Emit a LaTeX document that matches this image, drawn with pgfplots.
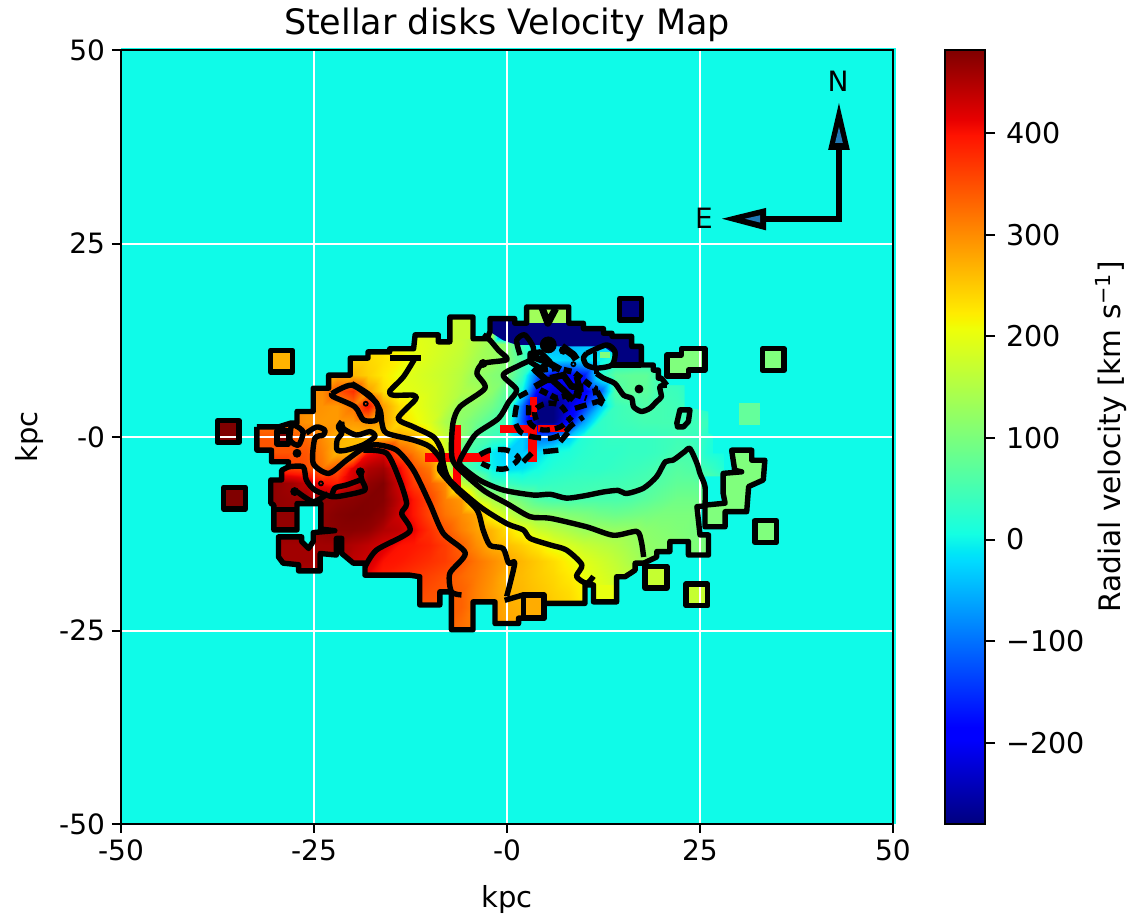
\documentclass[border=0pt]{standalone}
\usepackage{pgfplots}
\usepackage{fontspec}
\setmainfont{DejaVu Sans}
\pgfplotsset{compat=1.18}
\definecolor{bgc}{RGB}{15,251,232}
\definecolor{vD}{RGB}{128,0,0}
\definecolor{vN}{RGB}{0,0,128}
\definecolor{v270}{RGB}{255,178,0}
\definecolor{v275}{RGB}{255,172,0}
\definecolor{v200}{RGB}{232,255,16}
\definecolor{v170}{RGB}{197,255,48}
\definecolor{v130}{RGB}{160,255,90}
\definecolor{v105}{RGB}{128,255,125}
\definecolor{v75}{RGB}{100,255,155}
\definecolor{arrowblue}{RGB}{31,119,180}
\pgfplotsset{colormap={mpljet}{rgb(0pt)=(0,0,.5); rgb(110pt)=(0,0,1); rgb(125pt)=(0,0,1); rgb(340pt)=(0,.86,1); rgb(350pt)=(0,.9,.968); rgb(375pt)=(.081,1,.887); rgb(640pt)=(.935,1,.032); rgb(650pt)=(.968,.963,0); rgb(660pt)=(1,.926,0); rgb(890pt)=(1,.074,0); rgb(910pt)=(.909,0,0); rgb(1000pt)=(.5,0,0)}}
\pgfplotsset{ctr/.style={black,line width=2.7pt,line join=round,smooth,tension=0.45},stp/.style={black,line width=2.7pt,line join=round}}
\newcommand{\sqf}[5]{\addplot[fill=#5,draw=none] coordinates {(#1,#3)(#2,#3)(#2,#4)(#1,#4)} -- cycle;}
\newcommand{\sqd}[4]{\addplot[stp,fill=none] coordinates {(#1,#3)(#2,#3)(#2,#4)(#1,#4)} -- cycle;}
\begin{document}
\begin{tikzpicture}
\path[use as bounding box] (0,0) rectangle (568.5pt,458.5pt);
\begin{axis}[
  at={(60.5pt,46.5pt)},anchor=south west,
  scale only axis,width=386pt,height=387pt,
  xmin=-50,xmax=50,ymin=-50,ymax=50,
  clip=false,axis on top,
  colormap name=mpljet,
  point meta min=-280,point meta max=482,
  axis line style={black,line width=1.1pt},
  tick style={black,line width=1pt},
  tick align=outside,major tick length=4.5pt,
  xtick pos=lower,ytick pos=left,
  xtick={-50,-25,0,25,50},xticklabels={-50,-25,-0,25,50},
  ytick={-50,-25,0,25,50},yticklabels={-50,-25,-0,25,50},
  tick label style={font=\fontsize{14}{16}\selectfont},
  xlabel={kpc},ylabel={kpc},
  label style={font=\fontsize{14.5}{16}\selectfont},
  xlabel style={yshift=-5pt},ylabel style={yshift=1pt},
  title={Stellar disks Velocity Map},
  title style={font=\fontsize{17.5}{20}\selectfont,yshift=-5.5pt},
]
% background
\addplot[fill=bgc,draw=none] coordinates {(-50,-50)(50.4,-50)(50.4,50.25)(-50,50.25)} -- cycle;
% velocity field, read on a 2 kpc grid
\addplot[surf,shader=interp,mesh/cols=32,point meta=explicit] coordinates {
(-34,14)[240](-32,14)[240](-30,14)[240](-28,14)[240](-26,14)[240](-24,14)[240](-22,14)[240](-20,14)[240](-18,14)[230](-16,14)[220](-14,14)[205](-12,14)[195](-10,14)[188](-8,14)[178](-6,14)[165](-4,14)[150](-2,14)[130](0,14)[-280](2,14)[-280](4,14)[-280](6,14)[-280](8,14)[-280](10,14)[-280](12,14)[-280](14,14)[-280](16,14)[-280](18,14)[0](20,14)[0](22,14)[0](24,14)[0](26,14)[0](28,14)[0]
(-34,12)[240](-32,12)[240](-30,12)[240](-28,12)[240](-26,12)[240](-24,12)[240](-22,12)[240](-20,12)[240](-18,12)[235](-16,12)[225](-14,12)[210](-12,12)[198](-10,12)[190](-8,12)[180](-6,12)[170](-4,12)[150](-2,12)[130](0,12)[110](2,12)[40](4,12)[-30](6,12)[-50](8,12)[-50](10,12)[-40](12,12)[-30](14,12)[-30](16,12)[-30](18,12)[0](20,12)[0](22,12)[0](24,12)[0](26,12)[0](28,12)[0]
(-34,10)[250](-32,10)[250](-30,10)[250](-28,10)[250](-26,10)[250](-24,10)[250](-22,10)[250](-20,10)[245](-18,10)[240](-16,10)[230](-14,10)[218](-12,10)[200](-10,10)[186](-8,10)[175](-6,10)[163](-4,10)[140](-2,10)[130](0,10)[110](2,10)[60](4,10)[0](6,10)[-20](8,10)[-30](10,10)[-20](12,10)[0](14,10)[20](16,10)[20](18,10)[30](20,10)[20](22,10)[10](24,10)[5](26,10)[0](28,10)[0]
(-34,8)[290](-32,8)[290](-30,8)[290](-28,8)[290](-26,8)[290](-24,8)[285](-22,8)[275](-20,8)[265](-18,8)[245](-16,8)[225](-14,8)[205](-12,8)[190](-10,8)[180](-8,8)[170](-6,8)[155](-4,8)[125](-2,8)[110](0,8)[100](2,8)[40](4,8)[-120](6,8)[-190](8,8)[-190](10,8)[-170](12,8)[20](14,8)[70](16,8)[75](18,8)[75](20,8)[40](22,8)[30](24,8)[15](26,8)[5](28,8)[0]
(-34,6)[300](-32,6)[300](-30,6)[300](-28,6)[300](-26,6)[300](-24,6)[300](-22,6)[345](-20,6)[375](-18,6)[285](-16,6)[235](-14,6)[200](-12,6)[195](-10,6)[185](-8,6)[170](-6,6)[150](-4,6)[140](-2,6)[115](0,6)[70](2,6)[0](4,6)[-200](6,6)[-220](8,6)[-220](10,6)[-200](12,6)[-120](14,6)[60](16,6)[75](18,6)[70](20,6)[45](22,6)[40](24,6)[20](26,6)[5](28,6)[0]
(-34,4)[295](-32,4)[295](-30,4)[295](-28,4)[295](-26,4)[295](-24,4)[295](-22,4)[290](-20,4)[320](-18,4)[400](-16,4)[285](-14,4)[235](-12,4)[205](-10,4)[185](-8,4)[165](-6,4)[125](-4,4)[115](-2,4)[90](0,4)[55](2,4)[-100](4,4)[-280](6,4)[-280](8,4)[-220](10,4)[-150](12,4)[-40](14,4)[40](16,4)[50](18,4)[60](20,4)[50](22,4)[45](24,4)[40](26,4)[20](28,4)[5]
(-34,2)[320](-32,2)[320](-30,2)[320](-28,2)[310](-26,2)[295](-24,2)[290](-22,2)[290](-20,2)[290](-18,2)[295](-16,2)[285](-14,2)[235](-12,2)[215](-10,2)[190](-8,2)[145](-6,2)[115](-4,2)[90](-2,2)[60](0,2)[45](2,2)[-120](4,2)[-280](6,2)[-280](8,2)[-180](10,2)[-60](12,2)[30](14,2)[40](16,2)[45](18,2)[50](20,2)[50](22,2)[50](24,2)[45](26,2)[40](28,2)[10]
(-34,0)[345](-32,0)[345](-30,0)[345](-28,0)[345](-26,0)[330](-24,0)[300](-22,0)[270](-20,0)[260](-18,0)[255](-16,0)[265](-14,0)[280](-12,0)[270](-10,0)[215](-8,0)[170](-6,0)[115](-4,0)[65](-2,0)[45](0,0)[30](2,0)[-30](4,0)[-100](6,0)[-90](8,0)[-30](10,0)[20](12,0)[30](14,0)[35](16,0)[35](18,0)[35](20,0)[40](22,0)[45](24,0)[40](26,0)[20](28,0)[5]
(-34,-2)[345](-32,-2)[345](-30,-2)[345](-28,-2)[345](-26,-2)[345](-24,-2)[310](-22,-2)[265](-20,-2)[265](-18,-2)[400](-16,-2)[420](-14,-2)[340](-12,-2)[310](-10,-2)[270](-8,-2)[190](-6,-2)[70](-4,-2)[45](-2,-2)[-10](0,-2)[-30](2,-2)[-30](4,-2)[-20](6,-2)[5](8,-2)[15](10,-2)[25](12,-2)[30](14,-2)[30](16,-2)[35](18,-2)[35](20,-2)[40](22,-2)[50](24,-2)[50](26,-2)[15](28,-2)[5]
(-34,-4)[400](-32,-4)[400](-30,-4)[390](-28,-4)[360](-26,-4)[350](-24,-4)[320](-22,-4)[345](-20,-4)[420](-18,-4)[450](-16,-4)[460](-14,-4)[410](-12,-4)[345](-10,-4)[315](-8,-4)[190](-6,-4)[60](-4,-4)[35](-2,-4)[-5](0,-4)[-20](2,-4)[-15](4,-4)[5](6,-4)[20](8,-4)[25](10,-4)[30](12,-4)[30](14,-4)[35](16,-4)[40](18,-4)[45](20,-4)[55](22,-4)[65](24,-4)[60](26,-4)[40](28,-4)[20]
(-34,-6)[470](-32,-6)[470](-30,-6)[470](-28,-6)[460](-26,-6)[440](-24,-6)[400](-22,-6)[390](-20,-6)[430](-18,-6)[470](-16,-6)[480](-14,-6)[430](-12,-6)[365](-10,-6)[335](-8,-6)[300](-6,-6)[170](-4,-6)[125](-2,-6)[45](0,-6)[40](2,-6)[30](4,-6)[30](6,-6)[35](8,-6)[40](10,-6)[42](12,-6)[45](14,-6)[45](16,-6)[50](18,-6)[55](20,-6)[65](22,-6)[75](24,-6)[75](26,-6)[70](28,-6)[60]
(-34,-8)[470](-32,-8)[470](-30,-8)[470](-28,-8)[465](-26,-8)[465](-24,-8)[470](-22,-8)[470](-20,-8)[475](-18,-8)[480](-16,-8)[478](-14,-8)[440](-12,-8)[395](-10,-8)[355](-8,-8)[310](-6,-8)[290](-4,-8)[190](-2,-8)[145](0,-8)[115](2,-8)[90](4,-8)[60](6,-8)[50](8,-8)[50](10,-8)[55](12,-8)[55](14,-8)[55](16,-8)[60](18,-8)[70](20,-8)[80](22,-8)[90](24,-8)[90](26,-8)[85](28,-8)[70]
(-34,-10)[470](-32,-10)[470](-30,-10)[470](-28,-10)[470](-26,-10)[470](-24,-10)[470](-22,-10)[478](-20,-10)[482](-18,-10)[480](-16,-10)[470](-14,-10)[430](-12,-10)[395](-10,-10)[355](-8,-10)[320](-6,-10)[300](-4,-10)[280](-2,-10)[205](0,-10)[170](2,-10)[135](4,-10)[120](6,-10)[115](8,-10)[105](10,-10)[100](12,-10)[90](14,-10)[85](16,-10)[90](18,-10)[95](20,-10)[100](22,-10)[100](24,-10)[100](26,-10)[95](28,-10)[90]
(-34,-12)[470](-32,-12)[470](-30,-12)[470](-28,-12)[470](-26,-12)[470](-24,-12)[470](-22,-12)[475](-20,-12)[475](-18,-12)[470](-16,-12)[450](-14,-12)[440](-12,-12)[410](-10,-12)[375](-8,-12)[345](-6,-12)[310](-4,-12)[285](-2,-12)[265](0,-12)[235](2,-12)[205](4,-12)[175](6,-12)[160](8,-12)[145](10,-12)[130](12,-12)[130](14,-12)[125](16,-12)[125](18,-12)[115](20,-12)[110](22,-12)[105](24,-12)[100](26,-12)[95](28,-12)[90]
(-34,-14)[460](-32,-14)[460](-30,-14)[460](-28,-14)[460](-26,-14)[460](-24,-14)[460](-22,-14)[460](-20,-14)[450](-18,-14)[440](-16,-14)[425](-14,-14)[400](-12,-14)[395](-10,-14)[385](-8,-14)[365](-6,-14)[335](-4,-14)[300](-2,-14)[272](0,-14)[260](2,-14)[245](4,-14)[225](6,-14)[200](8,-14)[185](10,-14)[170](12,-14)[160](14,-14)[150](16,-14)[135](18,-14)[120](20,-14)[115](22,-14)[110](24,-14)[105](26,-14)[100](28,-14)[95]
(-34,-16)[460](-32,-16)[460](-30,-16)[460](-28,-16)[460](-26,-16)[460](-24,-16)[460](-22,-16)[460](-20,-16)[440](-18,-16)[430](-16,-16)[400](-14,-16)[395](-12,-16)[385](-10,-16)[375](-8,-16)[365](-6,-16)[345](-4,-16)[320](-2,-16)[300](0,-16)[280](2,-16)[265](4,-16)[250](6,-16)[235](8,-16)[215](10,-16)[195](12,-16)[180](14,-16)[165](16,-16)[145](18,-16)[120](20,-16)[110](22,-16)[105](24,-16)[100](26,-16)[95](28,-16)[90]
(-34,-18)[450](-32,-18)[450](-30,-18)[450](-28,-18)[450](-26,-18)[450](-24,-18)[450](-22,-18)[450](-20,-18)[430](-18,-18)[410](-16,-18)[390](-14,-18)[380](-12,-18)[370](-10,-18)[360](-8,-18)[350](-6,-18)[330](-4,-18)[315](-2,-18)[295](0,-18)[270](2,-18)[262](4,-18)[250](6,-18)[240](8,-18)[225](10,-18)[205](12,-18)[190](14,-18)[175](16,-18)[165](18,-18)[150](20,-18)[140](22,-18)[130](24,-18)[120](26,-18)[110](28,-18)[100]
(-34,-20)[420](-32,-20)[420](-30,-20)[420](-28,-20)[420](-26,-20)[420](-24,-20)[420](-22,-20)[420](-20,-20)[420](-18,-20)[400](-16,-20)[380](-14,-20)[370](-12,-20)[360](-10,-20)[350](-8,-20)[345](-6,-20)[335](-4,-20)[310](-2,-20)[290](0,-20)[270](2,-20)[265](4,-20)[255](6,-20)[245](8,-20)[235](10,-20)[215](12,-20)[200](14,-20)[180](16,-20)[170](18,-20)[150](20,-20)[130](22,-20)[120](24,-20)[110](26,-20)[100](28,-20)[100]
(-34,-22)[400](-32,-22)[400](-30,-22)[400](-28,-22)[400](-26,-22)[400](-24,-22)[400](-22,-22)[400](-20,-22)[400](-18,-22)[380](-16,-22)[370](-14,-22)[360](-12,-22)[350](-10,-22)[345](-8,-22)[340](-6,-22)[335](-4,-22)[310](-2,-22)[295](0,-22)[275](2,-22)[270](4,-22)[265](6,-22)[250](8,-22)[240](10,-22)[220](12,-22)[200](14,-22)[180](16,-22)[170](18,-22)[150](20,-22)[130](22,-22)[120](24,-22)[110](26,-22)[100](28,-22)[100]
(-34,-24)[400](-32,-24)[400](-30,-24)[400](-28,-24)[400](-26,-24)[400](-24,-24)[400](-22,-24)[400](-20,-24)[400](-18,-24)[380](-16,-24)[370](-14,-24)[360](-12,-24)[350](-10,-24)[345](-8,-24)[340](-6,-24)[325](-4,-24)[310](-2,-24)[295](0,-24)[280](2,-24)[270](4,-24)[265](6,-24)[250](8,-24)[240](10,-24)[220](12,-24)[200](14,-24)[180](16,-24)[170](18,-24)[150](20,-24)[130](22,-24)[120](24,-24)[110](26,-24)[100](28,-24)[100]
(-34,-26)[400](-32,-26)[400](-30,-26)[400](-28,-26)[400](-26,-26)[400](-24,-26)[400](-22,-26)[400](-20,-26)[400](-18,-26)[380](-16,-26)[370](-14,-26)[360](-12,-26)[350](-10,-26)[345](-8,-26)[340](-6,-26)[325](-4,-26)[310](-2,-26)[295](0,-26)[280](2,-26)[270](4,-26)[265](6,-26)[250](8,-26)[240](10,-26)[220](12,-26)[200](14,-26)[180](16,-26)[170](18,-26)[150](20,-26)[130](22,-26)[120](24,-26)[110](26,-26)[100](28,-26)[100]
};
% everything outside the galaxy's outline is background colour
\addplot[fill=bgc,draw=none,even odd rule] coordinates {
(-40,0)(-40,20)(40,20)(40,-30)(-40,-30)(-40,0)(-32.4,0)
(-32.4,-1.7)(-30.5,-1.7)(-30.5,-3.2)(-28.3,-3.2)(-28.3,-3.85)(-29.2,-4.3)(-29.2,-5.55)(-30.6,-5.55)(-30.6,-8.55)(-30.2,-8.8)(-30.2,-12)(-27.2,-12)(-27.2,-8.6)(-24.4,-8.6)(-24.1,-8.6)(-24.1,-11.9)(-22.3,-12.1)(-25.1,-12.35)(-25.1,-13.5)(-25.7,-14.4)(-26.6,-13.5)(-26.6,-12.9)(-29.6,-12.9)(-29.6,-15.5)(-29,-16.3)(-27,-16.5)(-27,-17.3)(-24.2,-17.3)(-24.2,-15.05)(-22.1,-15.25)(-22.1,-13.1)(-21.4,-13.1)(-21.4,-15.05)(-19.9,-16.3)(-18.4,-16.3)(-18.4,-17.85)(-12.6,-17.85)(-11.3,-18.05)(-11.3,-21.7)(-8.7,-21.7)(-8.7,-20)(-7.2,-20)(-7.2,-24.9)(-4.4,-24.9)(-4.4,-21.3)(-1.55,-21.3)(-1.55,-24.1)(1.5,-24.1)(1.5,-23.4)(4.8,-23.4)(4.8,-21.5)(10.1,-21.5)(10.1,-19.1)(11.2,-19.1)(11.2,-21.3)(14.2,-21.3)(14.2,-18.05)(15.3,-18.05)(16.6,-17.2)(16.6,-16.3)(17.7,-16.3)(19.4,-15.5)(19.4,-14.8)(21.1,-14.8)(21.1,-13.5)(23.5,-13.5)(23.5,-15.25)(26.1,-15.25)(26.1,-12.65)(25,-12.65)(24.6,-9)(25.65,-8.9)
(25.65,-5.1)(29.3,-5.1)(28.9,-2.1)(26.7,-2.1)(26.7,.25)(26.1,.5)(26.1,3.3)(23,3.9)(23,6.7)(20.7,6.7)(20,7.6)(19.6,7.6)(19.6,8.65)(18.95,8.65)(18.95,9.3)(17.4,9.3)
(17.4,11.7)(16.15,11.7)(16.15,13)(13.6,13)(13.6,13.4)(12.5,13.4)(12.5,14)(9.9,14)(9.9,14.7)(8,14.7)(8,16.8)(2.55,16.8)(2.55,14.7)(1,14.7)(1,15.3)(-2.2,15.3)(-2.2,13.6)(-2.6,12.7)(-4.4,12.7)(-4.4,15.5)(-7.4,15.5)(-7.4,12.3)(-8.9,12.3)(-8.9,13.2)(-11.9,13.2)(-12.1,11.4)(-15.2,11.4)(-15.2,11)(-18,11)(-18,10.2)(-20.3,10.2)(-20.3,8)(-23.1,8)(-23.1,6.3)(-25.1,6.3)(-25.1,3.3)(-27.2,3.3)(-27.2,1.8)(-28,1.8)(-29.6,1.3)(-32.4,1.3)(-32.4,0)(-40,0)
} -- cycle;
% flat patches
\sqf{-30.6}{-27.8}{8.4}{11.2}{v270}
\sqf{-37.5}{-34.7}{-.7}{2.1}{vD}
\sqf{-36.7}{-33.9}{-9.3}{-6.5}{vD}
\sqf{-7.4}{-4.4}{12.7}{15.5}{v170}
\sqf{14.6}{17.4}{15.1}{17.9}{vN}
\sqf{33.1}{35.9}{8.6}{11.4}{v105}
\sqf{32.1}{34.9}{-13.6}{-10.8}{v105}
\sqf{23.2}{26}{-21.8}{-19}{v170}
\sqf{17.9}{20.7}{-19.5}{-16.7}{v170}
\sqf{2.1}{4.8}{-23.4}{-20.4}{v275}
\sqf{11.2}{14.2}{-21.3}{-19.1}{v200}
\sqf{30}{32.8}{1.55}{4.35}{v75}
\sqf{-29.8}{-28.3}{-.9}{.8}{vD}
\sqf{2.55}{8}{14.7}{16.8}{v130}
\addplot[fill=v105,draw=none] coordinates {(20.7,10.6)(22.6,10.6)(22.6,11.45)(25.65,11.45)(25.65,8.65)(23.5,8.65)(23.5,7.9)(20.7,7.9)} -- cycle;
\addplot[fill=v105,draw=none] coordinates {(25.65,-8.9)(25.65,-11.6)(28.25,-11.6)(28.25,-9.65)(31.05,-9.65)(31.3,-6.4)(33.2,-5.55)(33.4,-3)(31.7,-3)(31.7,-1.7)(29.1,-1.7)(29.5,-4.3)(28,-4.7)(28,-7.3)(28.25,-8.55)} -- cycle;
% dark strip
\addplot[fill=vN,draw=none] coordinates {(-2.2,13.6)(-2.2,15.3)(1,15.3)(1,14.7)(2.55,14.7)(8,14.7)(9.9,14.7)(9.9,14)(12.5,14)(12.5,13.4)(13.6,13.4)(13.6,13)(16.15,13)(16.15,11.7)(17.4,11.7)(17.4,9.3)(13.6,9.3)(13.8,10.8)(12.5,11.7)(6.9,11.7)(3.85,11.9)(1.25,11.9)(-.5,12.5)} -- cycle;
% white grid
\addplot[white,line width=1pt] coordinates {(-25,-50)(-25,50)};
\addplot[white,line width=1pt] coordinates {(0,-50)(0,50)};
\addplot[white,line width=1pt] coordinates {(25,-50)(25,50)};
\addplot[white,line width=1pt] coordinates {(-50,-25)(50,-25)};
\addplot[white,line width=1pt] coordinates {(-50,0)(50,0)};
\addplot[white,line width=1pt] coordinates {(-50,25)(50,25)};
% red crosses
\addplot[fill=red,draw=none] coordinates {(-6.95,1.55)(-5.9,1.55)(-5.9,-6.85)(-6.95,-6.85)} -- cycle;
\addplot[fill=red,draw=none] coordinates {(-10.6,-2.1)(-2.2,-2.1)(-2.2,-3.2)(-10.6,-3.2)} -- cycle;
\addplot[fill=red,draw=none] coordinates {(-.9,1.55)(3.85,1.55)(3.85,.47)(-.9,.47)} -- cycle;
\addplot[fill=red,draw=none] coordinates {(2.76,1.55)(3.85,1.55)(3.85,-3.2)(2.76,-3.2)} -- cycle;
\addplot[fill=red,draw=none] coordinates {(3,5.2)(3.9,5.2)(3.9,2.6)(3,2.6)} -- cycle;
\addplot[fill=red,draw=none] coordinates {(4,1.55)(7.5,1.55)(7.5,.6)(4,.6)} -- cycle;
% square frames
\sqd{-30.6}{-27.8}{8.4}{11.2}
\sqd{-37.5}{-34.7}{-.7}{2.1}
\sqd{-36.7}{-33.9}{-9.3}{-6.5}
\sqd{14.6}{17.4}{15.1}{17.9}
\sqd{33.1}{35.9}{8.6}{11.4}
\sqd{32.1}{34.9}{-13.6}{-10.8}
\sqd{23.2}{26}{-21.8}{-19}
\sqd{17.9}{20.7}{-19.5}{-16.7}
\sqd{2.1}{4.8}{-23.4}{-20.4}
\sqd{-29.8}{-28.3}{-.9}{.8}
% outer contour
\addplot[stp] coordinates {
(-32.4,1.3)(-32.4,-1.7)(-30.5,-1.7)(-30.5,-3.2)(-28.3,-3.2)(-28.3,-3.85)(-29.2,-4.3)(-29.2,-5.55)(-30.6,-5.55)(-30.6,-8.55)(-30.2,-8.8)(-30.2,-12)(-27.2,-12)(-27.2,-8.6)(-24.4,-8.6)(-24.1,-8.6)(-24.1,-11.9)(-22.3,-12.1)(-25.1,-12.35)(-25.1,-13.5)(-25.7,-14.4)(-26.6,-13.5)(-26.6,-12.9)(-29.6,-12.9)(-29.6,-15.5)(-29,-16.3)(-27,-16.5)(-27,-17.3)(-24.2,-17.3)(-24.2,-15.05)(-22.1,-15.25)(-22.1,-13.1)(-21.4,-13.1)(-21.4,-15.05)(-19.9,-16.3)(-18.4,-16.3)(-18.4,-17.85)(-12.6,-17.85)(-11.3,-18.05)(-11.3,-21.7)(-8.7,-21.7)(-8.7,-20)(-7.2,-20)(-7.2,-24.9)(-4.4,-24.9)(-4.4,-21.3)(-1.55,-21.3)(-1.55,-24.1)(1.5,-24.1)(1.5,-23.4)(4.8,-23.4)(4.8,-21.5)(10.1,-21.5)(10.1,-19.1)(11.2,-19.1)(11.2,-21.3)(14.2,-21.3)(14.2,-18.05)(15.3,-18.05)(16.6,-17.2)(16.6,-16.3)(17.7,-16.3)(19.4,-15.5)(19.4,-14.8)(21.1,-14.8)(21.1,-13.5)(23.5,-13.5)(23.5,-15.25)(26.1,-15.25)(26.1,-12.65)(25,-12.65)(24.6,-9)(25.65,-8.9)
};
% the 50 km/s level
\addplot[ctr] coordinates {(25.65,-8.9)(25.65,-6.4)(25,-4.7)(24.6,-3.4)(23.7,-1.5)(23,-1.9)(21.5,-3)(20.5,-3.2)(19.4,-5.1)(17.7,-6.6)(15.5,-7.3)(14.4,-6.9)(12.5,-7.1)(10,-7.6)(7.7,-7.9)(5.6,-7.4)(3.4,-7.5)(-.5,-6.85)(-3.5,-5.6)(-5.9,-3.8)(-6.1,-3)(-5,-1)(-3.9,.5)(-1.1,2.4)(0.2,4.5)(1.25,6.1)(-.5,8)(1.7,9.3)(3.2,10.1)(3.4,11.6)(2.3,13.2)(1.25,12.5)(1.7,10.6)};
\addplot[ctr] coordinates {(11.6,8.2)(12.5,7.6)(14,6.9)(15.1,5.4)(16.15,5)(16.4,3.9)(17.4,3.3)(18.5,3.7)(19.4,4.6)(20,5.2)(19.8,6.5)(20.7,6.7)};
\addplot[stp] coordinates {(20.7,6.7)(20,7.6)(19.6,7.6)(19.6,8.65)(18.95,8.65)(18.95,9.3)(17.4,9.3)(17.4,11.7)(16.15,11.7)(16.15,13)(13.6,13)(13.6,13.4)(12.5,13.4)(12.5,14)(9.9,14)(9.9,14.7)(8,14.7)(8,16.8)(2.55,16.8)(2.55,14.7)(1,14.7)(1,15.3)(-2.2,15.3)(-2.2,13.6)(-2.6,12.7)(-4.4,12.7)(-4.4,15.5)(-7.4,15.5)(-7.4,12.3)(-8.9,12.3)(-8.9,13.2)(-11.9,13.2)(-12.1,11.4)(-15.2,11.4)(-15.2,11)(-18,11)(-18,10.2)(-20.3,10.2)(-20.3,8)(-23.1,8)(-23.1,6.3)(-25.1,6.3)(-25.1,3.3)(-27.2,3.3)(-27.2,1.8)(-28,1.8)(-29.6,1.3)(-32.4,1.3)};
\addplot[stp] coordinates {(17.4,9.3)(13.6,9.3)};
% right hand patches
\addplot[stp] coordinates {(20.7,10.6)(22.6,10.6)(22.6,11.45)(25.65,11.45)(25.65,8.65)(23.5,8.65)(23.5,7.9)(20.7,7.9)} -- cycle;
\addplot[stp] coordinates {(25.65,-8.9)(25.65,-11.6)(28.25,-11.6)(28.25,-9.65)(31.05,-9.65)(31.3,-6.4)(33.2,-5.55)(33.4,-3)(31.7,-3)(31.7,-1.7)(29.1,-1.7)(29.5,-4.3)(30.4,-4.5)(28,-4.7)(28,-7.3)(28.25,-8.55)(25.65,-8.8)};
\addplot[stp] coordinates {(22,1.8)(22.4,3.5)(23.7,3.5)(23.5,2)(22.85,1.3)(22.1,1.3)} -- cycle;
% level 125
\addplot[ctr] coordinates {(17.7,-15.5)(17.4,-13.5)(16.8,-12.2)(13.8,-12.7)(10.3,-11.6)(5.6,-10.5)(3,-10.3)(0,-8.6)(-3.1,-6.85)(-6.7,-3.6)(-7.2,-1.7)(-7,1.8)(-6.1,3.9)(-2.85,6.3)(-3.9,8.2)(-3.1,9.5)(0,10)(-1.1,11.2)(-2.2,12.5)(-3.1,13.2)};
% level 200
\addplot[ctr] coordinates {(-11.9,10.2)(-13.4,7.8)(-15.2,5.9)(-14.7,5.4)(-12.1,5.4)(-11.9,4.8)(-14.1,2.4)(-12.1,1.3)(-9.5,0)(-8.5,-1.7)(-8.25,-3.4)(-7.4,-5.6)(-3.5,-9)(0,-11.2)(2.1,-12)(3,-13.1)(5.6,-13.95)(7.7,-14.6)(9.7,-16.5)(9,-18)(10.3,-18.9)(11.2,-18)};
\addplot[stp] coordinates {(-15.2,10.2)(-11.2,10.2)};
% level 275
\addplot[ctr] coordinates {(-20.1,6.9)(-17.75,5.4)(-16.45,3.5)(-16.2,1.8)(-15.6,.5)(-12.1,-.4)(-10,-1.25)(-8.5,-3)(-8.7,-4.3)(-6.5,-6.85)(-3.9,-9.4)(-3.1,-12)(-2.2,-14)(-.5,-14.4)(.2,-16.3)(1,-16.3)(-.04,-20.6)};
\addplot[ctr] coordinates {(-21.4,2)(-21.2,1.1)(-19.5,.25)(-17.75,.7)(-17.1,.05)(-18.6,-1)(-20.8,-1.7)(-22,-1.7)(-22,-.4)(-21.4,.5)(-21.85,1.3)(-21.4,2)};
\addplot[stp] coordinates {(-.3,-21.1)(2.1,-20.4)(4.7,-20.4)};
% level 350
\addplot[ctr] coordinates {(-26,.5)(-24.65,1.3)(-23.6,.9)(-23.8,.25)(-24.9,-.2)(-25.1,-3.4)(-23.1,-4.7)(-20.8,-3)(-18.6,-1.45)(-16.9,-1)(-14.3,-1.7)(-12.1,-4.3)(-10,-8.6)(-8.25,-12.45)(-5.4,-15)(-7.4,-17.6)(-7.2,-20)(-5.9,-20.4)};
\addplot[ctr] coordinates {(-22.7,5.6)(-20.1,6.7)(-17.3,4.8)(-16.7,3.9)(-16.9,2.2)(-18.6,2.2)(-19.7,3.9)(-22.5,5.2)(-22.7,5.6)};
\addplot[ctr] coordinates {(-27.9,1.75)(-26.8,1.1)(-26.4,.5)(-27,-1.05)(-28.1,-.4)(-27.9,1.75)};
% level 425
\addplot[ctr] coordinates {(-18.6,-1.7)(-15.6,-2.1)(-13.9,-5.6)(-13,-8.6)(-13.65,-9.9)(-12.6,-12.2)(-16.9,-14.6)(-18.4,-16.8)};
\addplot[ctr] coordinates {(-28.3,-3.85)(-26.4,-3.85)(-26,-5.55)(-24.9,-6.85)(-22.7,-7.7)(-20.8,-7.5)(-18.4,-6.85)(-18.8,-5.55)(-19,-4.5)};
\addplot[ctr] coordinates {(-19,-5.55)(-20.8,-6.2)(-22.3,-6.6)(-22.7,-7.7)};
\addplot[ctr] coordinates {(-27.2,-7.05)(-25.1,-8.35)(-23.2,-7.3)};
\addplot[stp] coordinates {(-30.3,-9.4)(-27.2,-9.4)};
% strip patches and knots near the centre
\addplot[black,line width=3.5pt,line join=round] coordinates {(4.5,16.8)(5.3,14.7)(6.3,16.6)};
\addplot[stp] coordinates {(3,10.8)(4.3,11)(5.6,9.7)(4.3,8.9)(3,9.7)} -- cycle;
\addplot[black,line width=3.5pt,line join=round] coordinates {(3.2,10.4)(5,9.8)(6.9,8.7)};
\addplot[black,line width=3.8pt,line join=round] coordinates {(7.1,11.7)(8.6,10.6)(9,10)};
\addplot[fill=v105,draw=none] coordinates {(12,11)(13.4,11)(13.4,10.2)(12,10.2)} -- cycle;
\addplot[ctr] coordinates {(10.3,10.8)(12.9,11.9)(14,11)(13.6,9.3)(11.6,8.9)(10.3,9.3)(9.9,10.2)(10.3,10.8)};
\addplot[black,line width=2pt] coordinates {(11.4,11)(11.4,9.1)};
\addplot[stp] coordinates {(11.6,8.9)(11.6,8.2)};
\addplot[black,line width=3.2pt,line join=round] coordinates {(3.4,8.9)(5.1,7.36)(6,7.4)};
\addplot[black,line width=3.2pt,line join=round] coordinates {(3.6,8.65)(5.1,7.36)(3.6,6.5)};
\addplot[black,line width=3.2pt,line join=round] coordinates {(5.6,7.6)(7.3,8)(8.4,6.5)(9.9,6.5)};
\addplot[black,line width=3.2pt,line join=round] coordinates {(5.6,7.6)(7.3,6.07)(8.6,4.8)};
\addplot[black,line width=3pt,dash pattern=on 4pt off 2pt] coordinates {(4.27,8.65)(6.4,8.9)(8.6,8.4)(10.75,6.7)(11.4,6.3)(11.6,5.2)};
\addplot[black,line width=3pt,dash pattern=on 4pt off 2pt] coordinates {(4.3,6.07)(6.4,5)(8.6,5.6)(10.3,5)};
\addplot[black,line width=3pt,dash pattern=on 4pt off 2pt] coordinates {(9,7.8)(9.5,6.07)(7.7,4.8)};
% negative levels, dashed
\addplot[black,line width=2.7pt,smooth,dash pattern=on 6pt off 3.5pt] coordinates {(-3.5,-2.3)(-2.2,-1.7)(0,-1.7)(1.5,-2.76)(0,-4.05)(-1.75,-4.05)(-3.3,-3.4)};
\addplot[black,line width=2.7pt,smooth,dash pattern=on 6pt off 3.5pt] coordinates {(1.25,4.1)(1,2.2)(1.7,.7)(3.2,.04)(5.6,-.17)(7.3,.47)(8.4,1.55)(9.9,2.6)};
\addplot[black,line width=2.7pt,dash pattern=on 5pt off 3pt] coordinates {(1.5,5.2)(2.8,5.9)};
\addplot[black,line width=2.7pt,dash pattern=on 6pt off 3pt] coordinates {(6.9,-.6)(8,.7)};
\addplot[stp] coordinates {(4.7,-1.9)(6.65,-1.7)};
\addplot[stp] coordinates {(2.1,-3.2)(3.2,-2.1)};
\addplot[black,line width=2.7pt,smooth,dash pattern=on 5pt off 2.5pt] coordinates {(2.8,4.1)(3,1.76)(4.7,.9)(6.9,1.3)(8.4,2.6)};
\addplot[black,line width=2.7pt,dash pattern=on 6pt off 3pt] coordinates {(8.8,3.7)(11.8,4.6)(12.7,4.1)(11.6,6.07)};
\addplot[black,line width=2.7pt,smooth,dash pattern=on 4pt off 2.5pt] coordinates {(3.8,2.2)(3.6,3.5)(5.1,4.35)(6.9,4.1)(8,2.6)};
% dots
\addplot[only marks,mark=*,mark size=2pt,mark options={fill=black,draw=black}] coordinates {(17.1,6.2)(-27.2,-2.1)(-27.5,-7.05)(-3.1,9.5)(-19,-4.5)(7.3,11.2)};
\addplot[only marks,mark=*,mark size=4pt,mark options={fill=black,draw=black}] coordinates {(5.35,11.9)};
\addplot[only marks,mark=o,mark size=1pt,mark options={draw=black,line width=.9pt}] coordinates {(-18.3,4.3)(-24.1,-6)(8.6,9.4)};
% compass
\addplot[black,line width=3pt,line cap=round] coordinates {(33.55,28.2)(43,28.2)(43,37.1)};
\addplot[fill=black,draw=none] coordinates {(43,43.15)(41.6,37.1)(44.4,37.1)} -- cycle;
\addplot[fill=arrowblue,draw=none] coordinates {(43,40.05)(42.5,38)(43.5,38)} -- cycle;
\addplot[fill=black,draw=none] coordinates {(27.85,28.2)(33.55,29.6)(33.55,26.7)} -- cycle;
\addplot[fill=arrowblue,draw=none] coordinates {(30.8,28.2)(32.8,28.65)(32.8,27.7)} -- cycle;
\node[font=\fontsize{14}{16}\selectfont] at (axis cs:42.9,45.9) {N};
\node[font=\fontsize{14}{16}\selectfont] at (axis cs:25.5,28.2) {E};
\end{axis}
% colour bar
\begin{axis}[
  at={(472.5pt,46.5pt)},anchor=south west,
  scale only axis,width=20pt,height=387pt,
  xmin=0,xmax=1,ymin=-280,ymax=482,
  axis on top,
  colormap name=mpljet,
  point meta min=-280,point meta max=482,
  axis line style={black,line width=1pt},
  xtick=\empty,
  ytick pos=right,yticklabel pos=right,
  tick style={black,line width=1pt},tick align=outside,major tick length=5pt,
  ytick={-200,-100,0,100,200,300,400},
  yticklabels={−200,−100,0,100,200,300,400},
  tick label style={font=\fontsize{14.3}{16}\selectfont},
  yticklabel style={xshift=2pt},
  ylabel={Radial velocity [km s\textsuperscript{−1}]},
  ylabel style={font=\fontsize{14.8}{16}\selectfont,at={(axis description cs:1,0.5)},anchor=center,yshift=-63pt},
]
\addplot[surf,shader=interp,mesh/cols=2,point meta=explicit] coordinates {
(0,-280)[-280](1,-280)[-280]
(0,-100)[-100](1,-100)[-100]
(0,100)[100](1,100)[100]
(0,300)[300](1,300)[300]
(0,482)[482](1,482)[482]
};
\end{axis}
\end{tikzpicture}
\end{document}
